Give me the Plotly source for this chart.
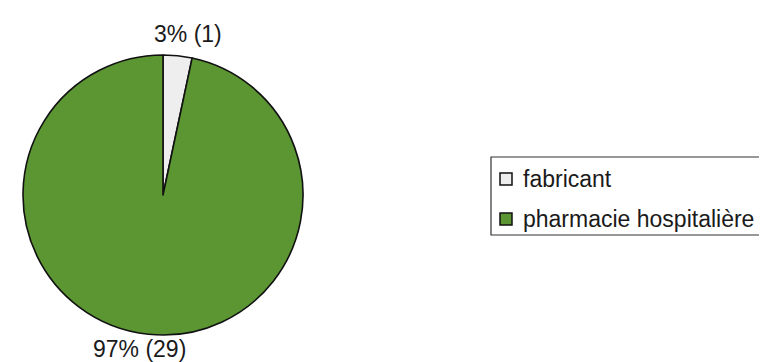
import plotly.graph_objects as go

# data
categories = ["fabricant", "pharmacie hospitalière"]
counts = [1, 29]
colors = ["#eeeeee", "#5b9632"]

W, H = 767, 362
FONT = "Liberation Sans, Arial, sans-serif"
FSIZE = 23

def px_x(v):
    return v / W

def px_y(v):
    return 1 - v / H

# pie centred at (155, 187) px with radius 140 px
cx, cy, r = 155, 187, 140

fig = go.Figure()
fig.add_trace(go.Pie(
    labels=categories,
    values=counts,
    sort=False,
    direction="clockwise",
    rotation=0,
    marker=dict(colors=colors, line=dict(color="#111111", width=1.6)),
    textinfo="none",
    showlegend=False,
    hoverinfo="label+value+percent",
    domain=dict(x=[px_x(cx - r), px_x(cx + r)], y=[px_y(cy + r), px_y(cy - r)]),
))

# slice labels "pct% (n)" placed like the Excel chart
total = sum(counts)
label_pos = [(180, 26), (131, 341)]
annotations = []
for n, (lx, ly) in zip(counts, label_pos):
    annotations.append(dict(text=f"{round(100 * n / total)}% ({n})",
                            xref="paper", yref="paper", x=px_x(lx), y=px_y(ly),
                            xanchor="center", yanchor="middle", showarrow=False,
                            font=dict(family=FONT, size=FSIZE, color="#1a1a1a")))

# legend drawn by hand so spacing matches the scanned chart
shapes = [dict(type="rect", xref="paper", yref="paper",
               x0=px_x(483), x1=px_x(800), y0=px_y(227), y1=px_y(149),
               line=dict(color="#333333", width=1.2), fillcolor="rgba(0,0,0,0)")]
row_y = [171, 211]
for name, col, ry in zip(categories, colors, row_y):
    shapes.append(dict(type="rect", xref="paper", yref="paper",
                       x0=px_x(492), x1=px_x(504), y0=px_y(ry + 6), y1=px_y(ry - 6),
                       fillcolor=col, line=dict(color="#111111", width=1.5)))
    annotations.append(dict(text=name, xref="paper", yref="paper",
                            x=px_x(513), y=px_y(ry), xanchor="left", yanchor="middle",
                            showarrow=False,
                            font=dict(family=FONT, size=FSIZE, color="#1a1a1a")))

fig.update_layout(
    width=W, height=H,
    margin=dict(l=0, r=0, t=0, b=0),
    paper_bgcolor="white",
    plot_bgcolor="white",
    shapes=shapes,
    annotations=annotations,
)

fig.write_html("out.html")
